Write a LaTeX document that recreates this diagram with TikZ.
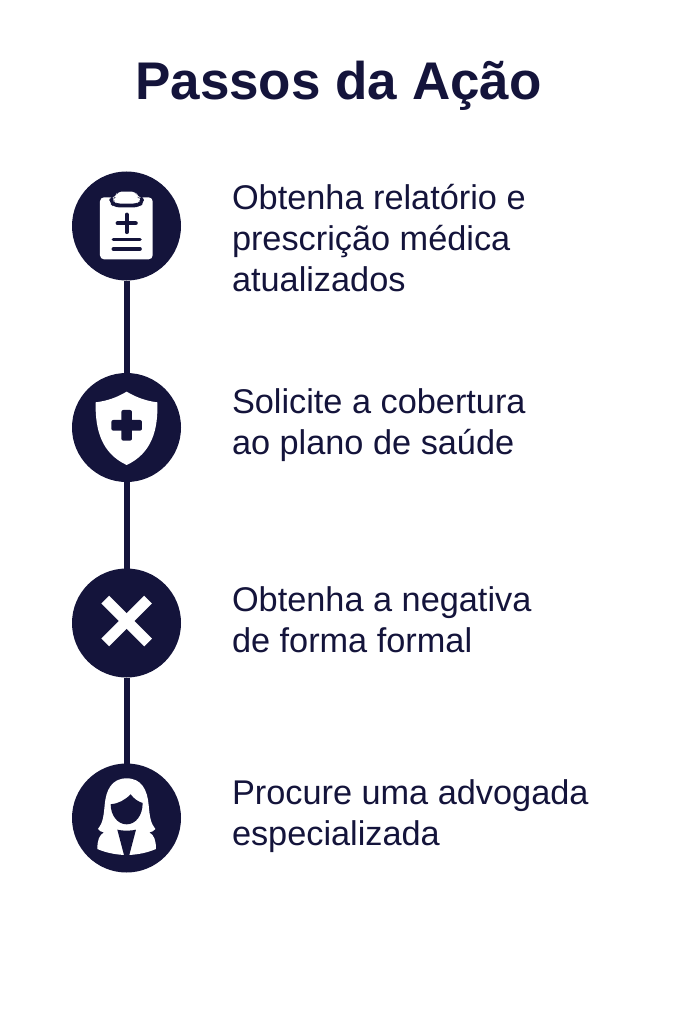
\documentclass[tikz,border=0pt]{standalone}
\usepackage{fontspec}
\setmainfont{Liberation Sans}
\definecolor{navy}{HTML}{14143B}
\newcommand{\firstline}{\rule{0pt}{26pt}}
\tikzset{
  stepcircle/.style={circle,fill=navy,minimum size=109pt,inner sep=0pt,outer sep=0pt},
  link/.style={draw=navy,line width=6pt},
  steptext/.style={anchor=north west,inner sep=0pt,outer sep=0pt,text=navy,align=left,font=\fontsize{34.3}{41}\selectfont},
  icon/.style={fill=white,draw=none},
  cut/.style={fill=navy,draw=none},
}
\begin{document}
\begin{tikzpicture}[x=1pt,y=-1pt]
\useasboundingbox[fill=white] (0,0) rectangle (683,1024);
\node[inner sep=0pt,anchor=base,text=navy,font=\fontsize{53}{60}\selectfont\bfseries] (title) at (338.5,100) {Passos da Ação};
\node[stepcircle] (c1) at (126.5,226) {};
\node[stepcircle] (c2) at (126.5,427.5) {};
\node[stepcircle] (c3) at (126.5,623) {};
\node[stepcircle] (c4) at (126.5,818) {};
\draw[link] (c1) -- (c2);
\draw[link] (c2) -- (c3);
\draw[link] (c3) -- (c4);
% clipboard
\begin{scope}[shift={(60,160)},x=0.3333pt,y=-0.3333pt]
\fill[icon,rounded corners=4pt] (120,112) rectangle (278,298);
\fill[cut,rounded corners=5pt] (148,108) -- (148,128) -- (162,142) -- (238,142) -- (252,128) -- (252,108) -- cycle;
\fill[icon,rounded corners=4pt] (172,95) -- (228,95) -- (232,110) -- (240,113) -- (240,122) -- (230,131) -- (170,131) -- (160,122) -- (160,113) -- (168,110) -- cycle;
\draw[navy,line width=4.2pt,line cap=round] (173,190) -- (227,190);
\draw[navy,line width=4.2pt,line cap=round] (200,164) -- (200,216);
\draw[navy,line width=3.6pt,line cap=round] (160,238) -- (240,238);
\draw[navy,line width=3.6pt,line cap=round] (160,267) -- (240,267);
\end{scope}
% shield
\begin{scope}[shift={(60,365)},x=0.3333pt,y=-0.3333pt]
\fill[icon] (200,80) .. controls (170,98) and (140,108) .. (107,112)
  .. controls (105,195) and (125,265) .. (200,300)
  .. controls (275,265) and (295,195) .. (292,112)
  .. controls (260,108) and (230,98) .. (200,80) -- cycle;
\fill[cut,rounded corners=2pt] (184,135) rectangle (216,227);
\fill[cut,rounded corners=2pt] (154,165) rectangle (246,197);
\end{scope}
% cross
\draw[white,line width=11pt] (105.3,599.6) -- (148.1,642.4);
\draw[white,line width=11pt] (148.1,599.6) -- (105.3,642.4);
% woman
\begin{scope}[shift={(60,755)},x=0.3333pt,y=-0.3333pt]
\fill[icon] (200,70) .. controls (155,70) and (138,105) .. (134,150)
  .. controls (131,185) and (128,205) .. (114,222)
  .. controls (118,228) and (124,231) .. (132,232)
  .. controls (118,240) and (112,255) .. (112,282)
  .. controls (140,294) and (165,298) .. (192,300)
  -- (208,300)
  .. controls (235,298) and (260,294) .. (288,282)
  .. controls (288,255) and (282,240) .. (268,232)
  .. controls (276,231) and (282,228) .. (286,222)
  .. controls (272,205) and (269,185) .. (266,150)
  .. controls (262,105) and (245,70) .. (200,70) -- cycle;
\fill[cut] (152,148) .. controls (175,146) and (195,135) .. (212,118)
  .. controls (222,132) and (235,140) .. (248,144)
  .. controls (248,180) and (228,208) .. (200,208)
  .. controls (172,208) and (152,180) .. (152,148) -- cycle;
\fill[cut] (172,224) .. controls (185,228) and (215,228) .. (228,224)
  -- (208,300) -- (192,300) -- cycle;
\end{scope}
\node[steptext] (t1) at (232,183.5) {\firstline Obtenha relatório e\\prescrição médica\\atualizados};
\node[steptext] (t2) at (232,387.5) {\firstline Solicite a cobertura\\ao plano de saúde};
\node[steptext] (t3) at (232,585.5) {\firstline Obtenha a negativa\\de forma formal};
\node[steptext] (t4) at (232,778.5) {\firstline Procure uma advogada\\especializada};
\end{tikzpicture}
\end{document}
